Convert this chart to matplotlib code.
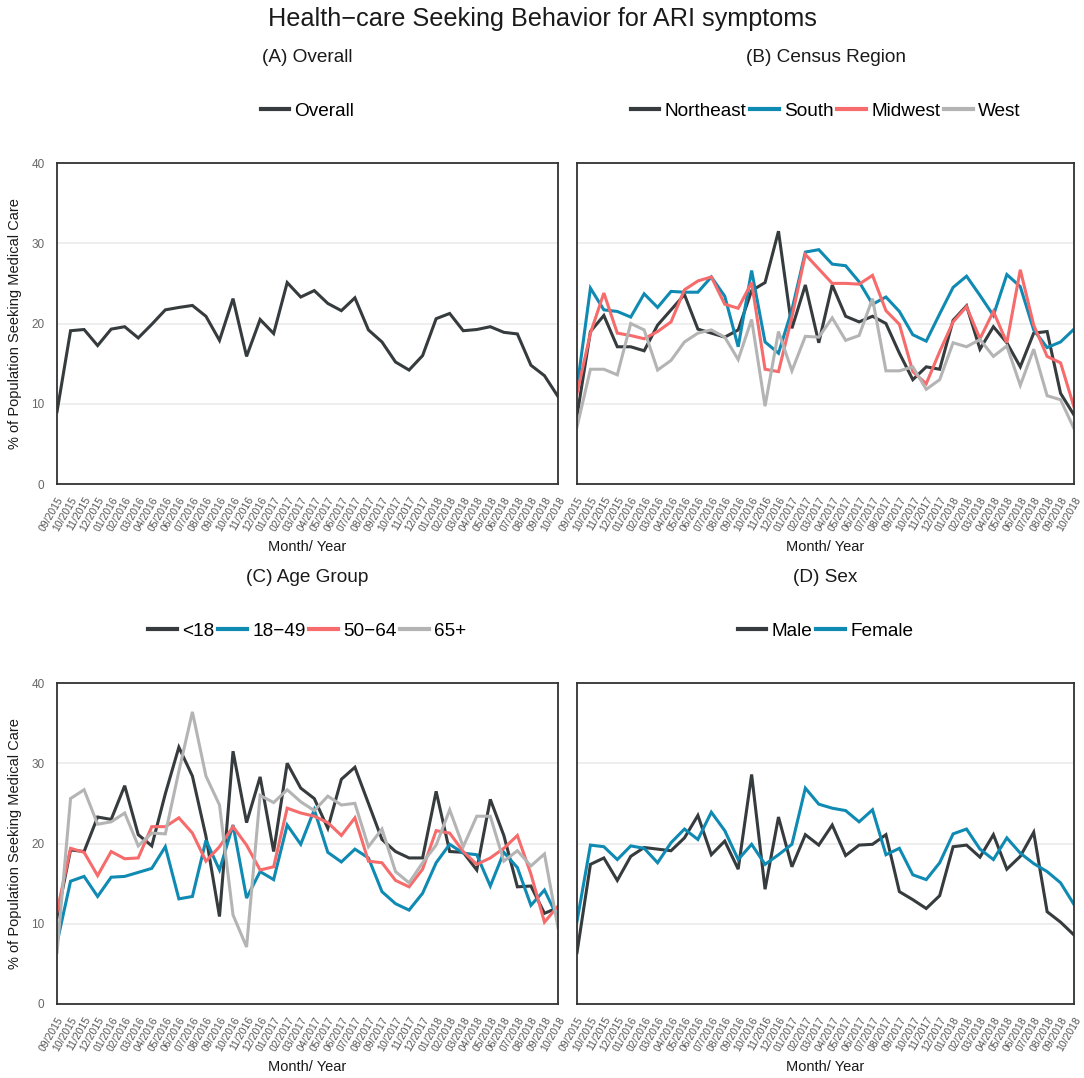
import matplotlib
matplotlib.use("Agg")
import matplotlib.pyplot as plt
import numpy as np

plt.rcParams['font.family'] = ['Liberation Sans', 'DejaVu Sans']

months = ["09/2015", "10/2015", "11/2015", "12/2015", "01/2016", "02/2016", "03/2016", "04/2016",
          "05/2016", "06/2016", "07/2016", "08/2016", "09/2016", "10/2016", "11/2016", "12/2016",
          "01/2017", "02/2017", "03/2017", "04/2017", "05/2017", "06/2017", "07/2017", "08/2017",
          "09/2017", "10/2017", "11/2017", "12/2017", "01/2018", "02/2018", "03/2018", "04/2018",
          "05/2018", "06/2018", "07/2018", "08/2018", "09/2018", "10/2018"]

overall = [9.0, 19.1, 19.25, 17.25, 19.3, 19.6, 18.2, 19.9, 21.7, 22.0, 22.25, 20.9, 17.9, 23.1, 15.9,
           20.5, 18.75, 25.1, 23.3, 24.1, 22.5, 21.6, 23.2, 19.2, 17.7, 15.2, 14.2, 16.0, 20.6, 21.25,
           19.1, 19.25, 19.6, 18.9, 18.7, 14.8, 13.5, 10.9]

northeast = [8.5, 19.0, 21.0, 17.1, 17.1, 16.6, 19.8, 21.7, 23.6, 19.3, 18.8, 18.3, 19.2, 24.1, 25.1,
             31.5, 19.4, 24.8, 17.6, 24.8, 20.9, 20.2, 20.9, 20.0, 16.3, 13.0, 14.6, 14.3, 20.4, 22.2,
             16.8, 19.6, 17.6, 14.6, 18.8, 19.0, 11.3, 8.6]
south = [12.0, 24.4, 21.7, 21.5, 20.8, 23.7, 22.0, 24.0, 23.9, 23.9, 25.8, 23.4, 17.1, 26.6, 17.7,
         16.3, 21.7, 28.9, 29.2, 27.4, 27.2, 25.2, 22.4, 23.3, 21.5, 18.6, 17.8, 21.2, 24.5, 25.9,
         23.5, 21.0, 26.1, 24.6, 19.2, 17.0, 17.7, 19.3]
midwest = [11.3, 18.8, 23.8, 18.8, 18.5, 18.1, 19.0, 20.2, 24.2, 25.3, 25.8, 22.4, 21.9, 25.1, 14.3,
           14.0, 20.8, 28.6, 26.8, 25.0, 25.0, 24.9, 26.0, 21.6, 19.9, 14.0, 12.5, 16.5, 20.2, 22.1,
           18.1, 21.5, 17.6, 26.7, 19.8, 15.9, 15.1, 9.6]
west = [7.1, 14.3, 14.3, 13.6, 20.0, 19.2, 14.2, 15.4, 17.7, 18.8, 19.2, 18.3, 15.5, 20.5, 9.7,
        19.0, 14.1, 18.4, 18.3, 20.7, 17.9, 18.5, 23.1, 14.1, 14.1, 14.6, 11.8, 13.0, 17.6, 17.1,
        18.0, 15.9, 17.2, 12.3, 16.8, 11.0, 10.5, 6.9]

age_lt18 = [10.8, 19.2, 19.0, 23.3, 23.0, 27.2, 21.1, 19.7, 26.2, 32.0, 28.4, 20.9, 10.9, 31.5, 22.6,
            28.3, 19.0, 30.0, 26.9, 25.6, 21.9, 28.0, 29.5, 25.0, 20.5, 19.0, 18.2, 18.2, 26.5, 19.0,
            18.9, 16.7, 25.5, 21.0, 14.6, 14.7, 11.3, 12.0]
age_18_49 = [7.6, 15.3, 15.9, 13.4, 15.8, 15.9, 16.4, 16.9, 19.6, 13.1, 13.4, 20.4, 16.7, 22.3, 13.2,
             16.5, 15.5, 22.3, 19.9, 24.2, 18.9, 17.7, 19.3, 18.2, 14.0, 12.5, 11.7, 13.8, 17.6, 19.9,
             18.8, 18.6, 14.7, 18.9, 17.0, 12.3, 14.2, 10.7]
age_50_64 = [11.5, 19.4, 18.9, 16.0, 19.0, 18.1, 18.2, 22.1, 22.1, 23.2, 21.3, 17.8, 19.6, 22.1, 19.8,
             16.7, 17.1, 24.4, 23.8, 23.4, 22.6, 21.0, 23.2, 17.8, 17.6, 15.4, 14.6, 16.8, 21.6, 21.3,
             19.0, 17.4, 18.2, 19.4, 21.0, 16.2, 10.2, 12.2]
age_65p = [6.4, 25.6, 26.7, 22.4, 22.7, 23.8, 19.7, 21.3, 21.2, 29.0, 36.4, 28.4, 24.8, 11.1, 7.1,
           26.0, 25.1, 26.7, 25.2, 24.1, 25.9, 24.8, 25.0, 19.6, 21.8, 16.5, 15.1, 17.6, 19.8, 24.2,
           19.6, 23.4, 23.4, 17.8, 19.1, 17.2, 18.7, 9.5]

male = [6.4, 17.4, 18.2, 15.4, 18.4, 19.5, 19.3, 19.1, 20.7, 23.5, 18.6, 20.3, 16.8, 28.6, 14.3,
        23.3, 17.1, 21.1, 19.8, 22.3, 18.5, 19.8, 19.9, 21.1, 14.0, 13.0, 11.9, 13.5, 19.6, 19.8,
        18.3, 21.1, 16.8, 18.4, 21.4, 11.5, 10.2, 8.6]
female = [10.3, 19.8, 19.6, 18.0, 19.7, 19.4, 17.6, 20.1, 21.8, 20.5, 23.9, 21.6, 18.0, 19.9, 17.4,
          18.6, 19.9, 26.9, 24.9, 24.4, 24.1, 22.7, 24.2, 18.6, 19.4, 16.1, 15.5, 17.6, 21.2, 21.8,
          19.3, 18.0, 20.7, 18.8, 17.5, 16.5, 15.1, 12.4]

C_DARK = "#363b3e"
C_BLUE = "#0f8ab2"
C_RED = "#f66b6b"
C_GRAY = "#b4b4b4"

fig = plt.figure(figsize=(10.84, 10.78), dpi=100)
fig.text(0.5, 1 - 19 / 1078, "Health\u2212care Seeking Behavior for ARI symptoms", ha="center", va="center",
         fontsize=18.2, color="#1a1a1a")

W = 1084.0
H = 1078.0
boxes = {
    "A": (57, 163, 558, 484),
    "B": (577, 163, 1074, 484),
    "C": (57, 683, 558, 1004),
    "D": (577, 683, 1074, 1004),
}
titles = {"A": "(A) Overall", "B": "(B) Census Region", "C": "(C) Age Group", "D": "(D) Sex"}
series = {
    "A": [("Overall", overall, C_DARK)],
    "B": [("Northeast", northeast, C_DARK), ("South", south, C_BLUE),
          ("Midwest", midwest, C_RED), ("West", west, C_GRAY)],
    "C": [("<18", age_lt18, C_DARK), ("18\u221249", age_18_49, C_BLUE),
          ("50\u221264", age_50_64, C_RED), ("65+", age_65p, C_GRAY)],
    "D": [("Male", male, C_DARK), ("Female", female, C_BLUE)],
}

x = np.arange(len(months))
for key, (x0, y0, x1, y1) in boxes.items():
    ax = fig.add_axes([x0 / W, 1 - y1 / H, (x1 - x0) / W, (y1 - y0) / H])
    handles = []
    for name, vals, col in series[key]:
        h, = ax.plot(x, vals, color=col, lw=2.2, solid_joinstyle="miter", label=name)
        handles.append(h)
    ax.set_xlim(0, len(months) - 1)
    ax.set_ylim(0, 40)
    ax.set_yticks([0, 10, 20, 30, 40])
    ax.grid(axis="y", color="#ebebeb", lw=1.2)
    ax.set_axisbelow(True)
    for s in ax.spines.values():
        s.set_color("#333333")
        s.set_linewidth(1.3)
    ax.set_xticks(x)
    ax.set_xticklabels(months, rotation=60, ha="right", rotation_mode="anchor",
                       fontsize=7.5, color="#555555")
    ax.tick_params(axis="x", length=0, pad=8)
    if key in ("A", "C"):
        ax.tick_params(axis="y", length=0, labelsize=8.5, labelcolor="#666666", pad=9)
        ax.set_ylabel("% of Population Seeking Medical Care", fontsize=10.5, color="#1a1a1a", labelpad=7)
    else:
        ax.tick_params(axis="y", length=0)
        ax.set_yticklabels([])
    ax.set_xlabel("Month/ Year", fontsize=10.5, color="#1a1a1a", labelpad=5)
    cx = (x0 + x1) / 2 / W
    fig.text(cx, 1 - (y0 - 106) / H, titles[key], ha="center", va="center", fontsize=13.7, color="#1a1a1a")
    fig.legend(handles=handles, loc="center", bbox_to_anchor=(cx, 1 - (y0 - 52) / H), ncol=len(handles),
               frameon=False, fontsize=13.7, handlelength=1.5, handletextpad=0.28, columnspacing=0.2,
               borderaxespad=0)
    for lh in fig.legends[-1].get_lines():
        lh.set_linewidth(3.0)

fig.savefig("out.png", dpi=100)
